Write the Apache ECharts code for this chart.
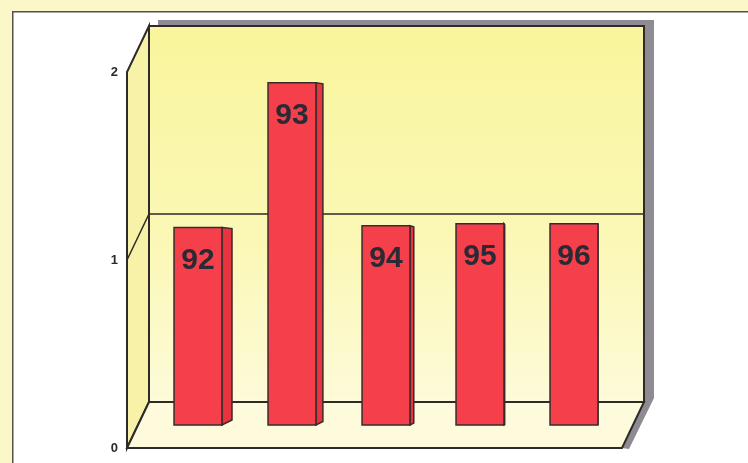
<!DOCTYPE html>
<html>
<head>
<meta charset="utf-8">
<script src="https://cdn.jsdelivr.net/npm/echarts@6/dist/echarts.min.js"></script>
<style>
  html, body { margin: 0; padding: 0; background: #fbf7c8; }
  #chart { width: 748px; height: 463px; }
</style>
</head>
<body>
<div id="chart"></div>
<script>
// bar categories (printed on the bars) and heights
const categories = ["92", "93", "94", "95", "96"];
const values = [1.05, 1.82, 1.06, 1.07, 1.07];
const yTicks = [0, 1, 2];

// fake 3d depth of the box, in px
const DEPTH = [22, -46];

const chart = echarts.init(document.getElementById("chart"));

const renderFrame = (params, api) => {
  const cs = params.coordSys;
  const fx0 = cs.x - 13;
  const fx1 = cs.x + cs.width + 12;
  const fb = api.coord([0, yTicks[0]])[1];
  const ft = api.coord([0, yTicks[yTicks.length - 1]])[1];
  const bx0 = fx0 + DEPTH[0], bx1 = fx1 + DEPTH[0];
  const bb = fb + DEPTH[1], bt = ft + DEPTH[1];
  const line = { stroke: "#2e2a2a", lineWidth: 2 };

  const children = [
    // grey drop shadow of the back wall
    {
      type: "polygon",
      shape: { points: [[bx0 + 9, bt - 6], [bx1 + 10, bt - 6], [bx1 + 10, bb - 4], [fx1 + 7, fb + 1], [fx1, fb], [bx1, bb], [bx1, bt], [bx0 + 9, bt]] },
      style: { fill: "#8e8b93" },
    },
    {
      type: "rect",
      shape: { x: bx0, y: bt, width: bx1 - bx0, height: bb - bt },
      style: Object.assign({
        fill: new echarts.graphic.LinearGradient(0, 0, 0, 1, [
          { offset: 0, color: "#f9f59c" },
          { offset: 0.6, color: "#fbf8b8" },
          { offset: 1, color: "#fdfbd9" },
        ]),
      }, line),
    },
    {
      type: "polygon",
      shape: { points: [[fx0, fb], [fx0, ft], [bx0, bt], [bx0, bb]] },
      style: Object.assign({ fill: "#f7f2a8" }, line),
    },
    {
      type: "polygon",
      shape: { points: [[fx0, fb], [fx1, fb], [bx1, bb], [bx0, bb]] },
      style: Object.assign({ fill: "#fdfbdb" }, line),
    },
  ];

  // grid lines (only the inner ticks)
  for (let i = 1; i < yTicks.length - 1; i++) {
    const y = api.coord([0, yTicks[i]])[1];
    children.push({
      type: "polyline",
      shape: { points: [[fx0, y], [bx0, y + DEPTH[1]], [bx1, y + DEPTH[1]]] },
      style: { stroke: "#2e2a2a", lineWidth: 1.5, fill: null },
    });
  }

  return { type: "group", children: children };
};

const renderBar = (params, api) => {
  const cs = params.coordSys;
  const idx = api.value(0);
  const top = api.coord([idx, api.value(1)]);
  const base = api.coord([idx, 0]);
  const band = api.size([1, 0])[0];
  const w = band * 0.51;
  const cx = top[0] + DEPTH[0] / 2;
  const x0 = cx - w / 2, x1 = cx + w / 2;
  const yt = top[1] + DEPTH[1] / 2;
  const yb = base[1] + DEPTH[1] / 2;
  // side face shrinks toward the vanishing point
  const vp = cs.x + cs.width * 0.77;
  const s = Math.max(0, (vp - cx) * 0.033);
  const stroke = { stroke: "#3a2a2c", lineWidth: 1.5 };

  return {
    type: "group",
    children: [
      {
        type: "polygon",
        shape: { points: [[x1, yt], [x1 + s, yt + 1], [x1 + s, yb - s / 2], [x1, yb]] },
        style: Object.assign({ fill: "#e8343f" }, stroke),
      },
      {
        type: "rect",
        shape: { x: x0, y: yt, width: w, height: yb - yt },
        style: Object.assign({ fill: "#f5404c" }, stroke),
      },
      {
        type: "text",
        style: {
          x: cx, y: yt + 33,
          text: categories[idx],
          font: "bold 30px 'Liberation Sans', Arial, sans-serif",
          fill: "#2a2a34",
          align: "center",
          verticalAlign: "middle",
        },
      },
    ],
  };
};

chart.setOption({
  backgroundColor: "#fbf7c8",
  animation: false,
  graphic: [
    {
      type: "rect",
      left: 12, top: 11,
      shape: { width: 760, height: 470 },
      style: { fill: "#ffffff", stroke: "#555048", lineWidth: 1.5 },
      z: -10,
    },
  ],
  grid: { left: 140, right: 138, top: 72, bottom: 15 },
  xAxis: {
    type: "category",
    data: categories,
    show: false,
  },
  yAxis: {
    type: "value",
    min: 0,
    max: 2,
    interval: 1,
    offset: 13,
    axisLine: { show: false },
    axisTick: { show: false },
    splitLine: { show: false },
    axisLabel: {
      margin: 9,
      color: "#2a2a2a",
      fontWeight: "bold",
      fontSize: 13,
      fontFamily: "'Liberation Sans', Arial, sans-serif",
    },
  },
  series: [
    {
      type: "custom",
      renderItem: renderFrame,
      data: [[0, 0]],
      clip: false,
      silent: true,
      z: 1,
    },
    {
      type: "custom",
      renderItem: renderBar,
      data: values.map((v, i) => [i, v]),
      clip: false,
      z: 2,
    },
  ],
});
</script>
</body>
</html>
